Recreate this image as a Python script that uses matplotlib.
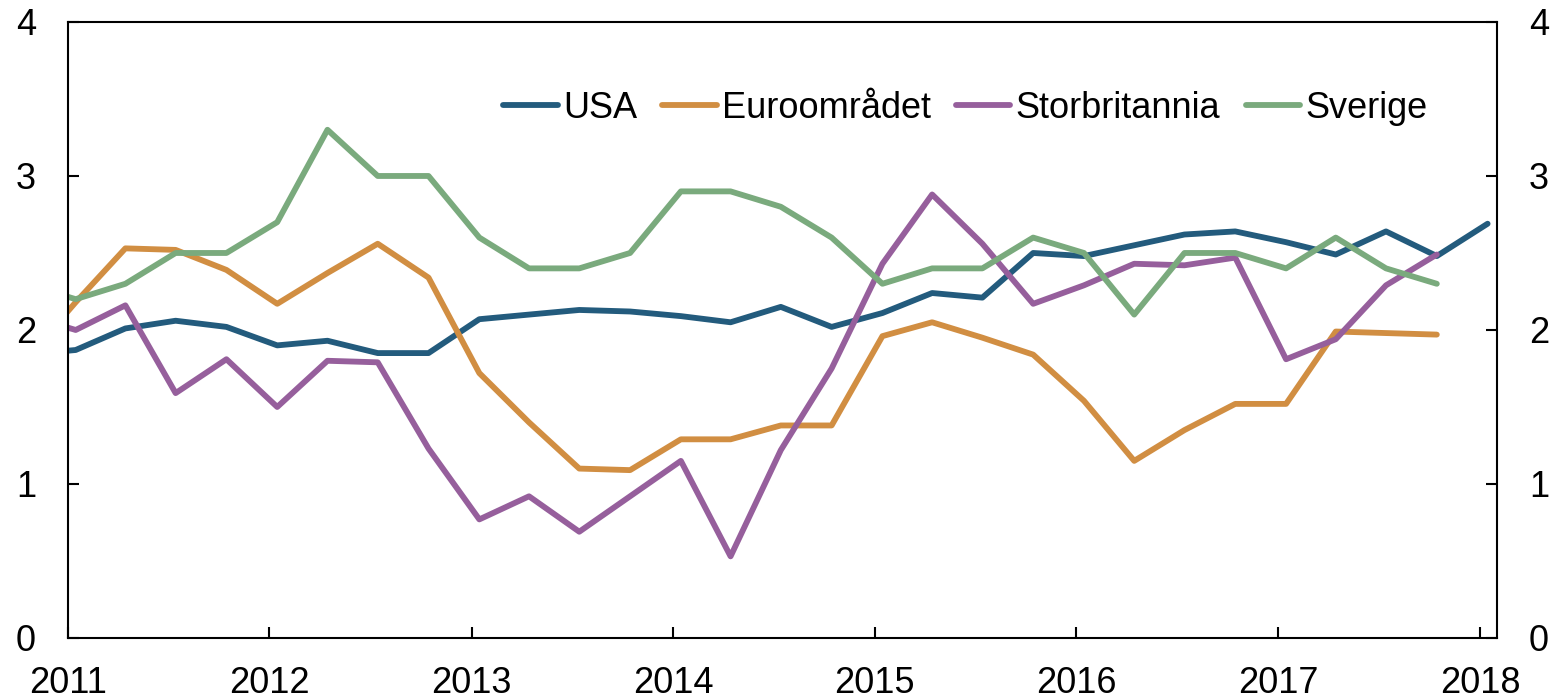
import numpy as np
import pandas as pd
import matplotlib
matplotlib.use("Agg")
import matplotlib.pyplot as plt
import matplotlib.dates as mdates
from datetime import datetime

plt.rcParams['font.family'] = ['Liberation Sans', 'DejaVu Sans']

quarters = pd.period_range('2010Q4', '2018Q1', freq='Q')

usa = [1.84, 1.87, 2.01, 2.06, 2.02, 1.90, 1.93, 1.85, 1.85, 2.07,
       2.10, 2.13, 2.12, 2.09, 2.05, 2.15, 2.02, 2.11, 2.24, 2.21,
       2.50, 2.48, 2.55, 2.62, 2.64, 2.57, 2.49, 2.64, 2.48, 2.69]
euro = [1.80, 2.18, 2.53, 2.52, 2.39, 2.17, 2.37, 2.56, 2.34, 1.72,
        1.40, 1.10, 1.09, 1.29, 1.29, 1.38, 1.38, 1.96, 2.05, 1.95,
        1.84, 1.54, 1.15, 1.35, 1.52, 1.52, 1.99, 1.98, 1.97, np.nan]
uk = [2.10, 2.00, 2.16, 1.59, 1.81, 1.50, 1.80, 1.79, 1.23, 0.77,
      0.92, 0.69, 0.92, 1.15, 0.53, 1.22, 1.75, 2.43, 2.88, 2.56,
      2.17, 2.29, 2.43, 2.42, 2.47, 1.81, 1.94, 2.29, 2.49, np.nan]
sweden = [2.3, 2.2, 2.3, 2.5, 2.5, 2.7, 3.3, 3.0, 3.0, 2.6,
          2.4, 2.4, 2.5, 2.9, 2.9, 2.8, 2.6, 2.3, 2.4, 2.4,
          2.6, 2.5, 2.1, 2.5, 2.5, 2.4, 2.6, 2.4, 2.3, np.nan]

names = ['USA', 'Euroområdet', 'Storbritannia', 'Sverige']
colors = ['#235b7d', '#d18e42', '#965f9c', '#7aaa7d']

# data points sit in the middle of the quarter's first month
x = quarters.to_timestamp() + pd.Timedelta(days=14)

fig = plt.figure(figsize=(15.55, 7), dpi=100)
ax = fig.add_axes([0.0437, 0.0886, 0.9190, 0.8800])

for name, y, c in zip(names, [usa, euro, uk, sweden], colors):
    ax.plot(x, y, color=c, lw=4.2, label=name, solid_capstyle='round')

ax.set_xlim(datetime(2011, 1, 1), datetime(2018, 2, 1))
ax.set_ylim(0, 4)
ax.set_yticks([0, 1, 2, 3, 4])
ax.xaxis.set_major_locator(mdates.YearLocator())
ax.xaxis.set_major_formatter(mdates.DateFormatter('%Y'))

for s in ax.spines.values():
    s.set_linewidth(1.5)
ax.tick_params(axis='both', direction='in', length=8, width=1.5,
               labelsize=26, pad=23)
ax.tick_params(axis='x', pad=20)
ax.tick_params(axis='y', right=True, labelright=True)

ax.legend(loc='center', bbox_to_anchor=(0.628, 0.86), ncol=4,
          frameon=False, fontsize=26, handlelength=1.5,
          handletextpad=0.15, columnspacing=0.7)

fig.savefig('out.png', dpi=100)
